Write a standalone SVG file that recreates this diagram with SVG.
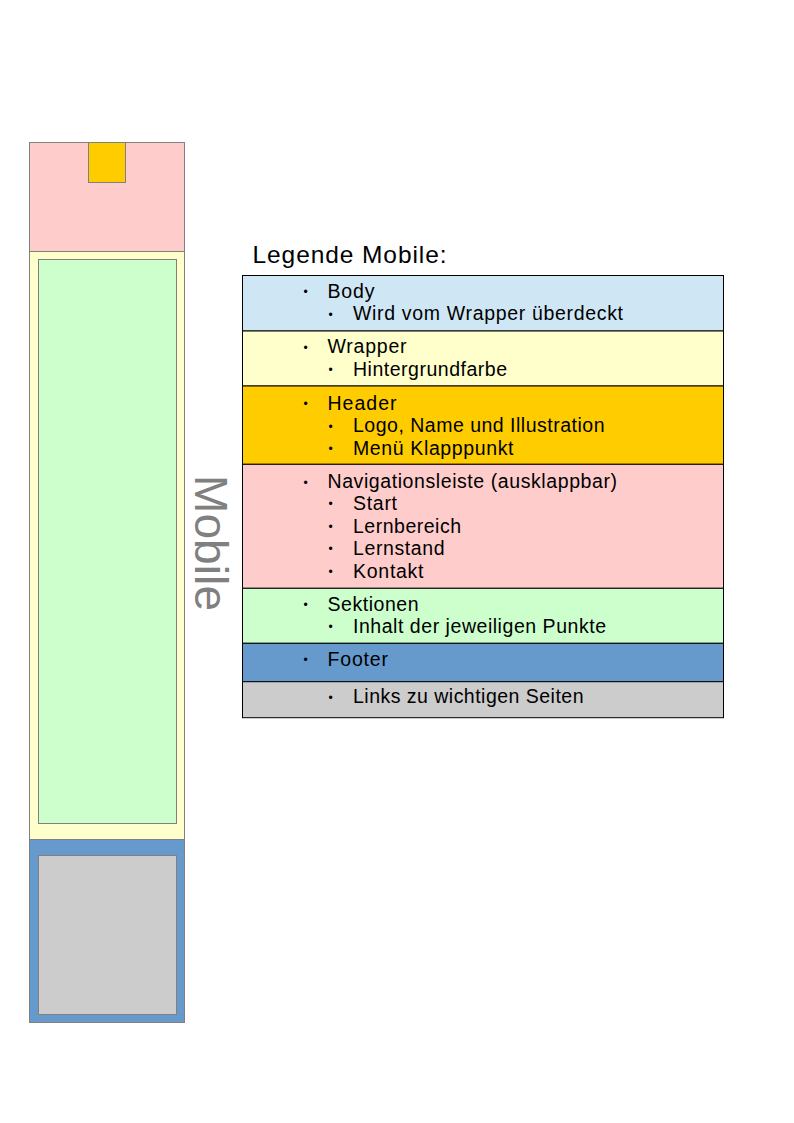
<svg xmlns="http://www.w3.org/2000/svg" width="794" height="1123" viewBox="0 0 794 1123">
<style>
.box{stroke:#808080;stroke-width:1}
.row{stroke:#000;stroke-width:1}
.t{font-family:"Liberation Sans",Arial,sans-serif;font-size:19.5px;fill:#000}
.b{font-family:"Liberation Sans",Arial,sans-serif;font-size:12px;fill:#000;text-anchor:middle}
.title{font-family:"Liberation Sans",Arial,sans-serif;font-size:24.5px;fill:#000}
.mob{font-family:"Liberation Sans",Arial,sans-serif;font-size:46px;fill:#808080;text-anchor:middle}
</style>
<rect width="794" height="1123" fill="#fff"/>
<g id="mobile-layout">
  <rect id="nav" class="box" x="29.5" y="142.5" width="155" height="109" fill="#ffcccc"/>
  <rect id="header" class="box" x="88.5" y="142.5" width="37" height="40" fill="#ffcc00"/>
  <rect id="wrapper" class="box" x="29.5" y="251.5" width="155" height="588" fill="#ffffcc"/>
  <rect id="sektionen" class="box" x="38.5" y="259.5" width="138" height="564" fill="#ccffcc"/>
  <rect id="footer" class="box" x="29.5" y="839.5" width="155" height="183" fill="#6699cc"/>
  <rect id="links" class="box" x="38.5" y="855.5" width="138" height="159" fill="#cccccc"/>
</g>
<g id="mobile-label">
  <text class="mob" transform="translate(195,543) rotate(90)" x="0" y="0" textLength="136" lengthAdjust="spacing">Mobile</text>
</g>
<g id="legend">
  <text class="title" x="252.5" y="263" textLength="194" lengthAdjust="spacing">Legende Mobile:</text>
  <g id="row-body">
    <rect class="row" x="242.5" y="275.5" width="481" height="55.5" fill="#cfe7f5"/>
    <text class="b" x="305.7" y="295.8">•</text>
    <text class="t" x="327.5" y="297.5" textLength="47" lengthAdjust="spacing">Body</text>
    <text class="b" x="330.7" y="318.5">•</text>
    <text class="t" x="353" y="320.3" textLength="270" lengthAdjust="spacing">Wird vom Wrapper überdeckt</text>
  </g>
  <g id="row-wrapper">
    <rect class="row" x="242.5" y="331" width="481" height="55" fill="#ffffcc"/>
    <text class="b" x="305.7" y="351.6">•</text>
    <text class="t" x="327.5" y="353.3" textLength="79" lengthAdjust="spacing">Wrapper</text>
    <text class="b" x="330.7" y="374.2">•</text>
    <text class="t" x="353" y="376" textLength="154" lengthAdjust="spacing">Hintergrundfarbe</text>
  </g>
  <g id="row-header">
    <rect class="row" x="242.5" y="386" width="481" height="78.3" fill="#ffcc00"/>
    <text class="b" x="305.7" y="408.2">•</text>
    <text class="t" x="327.5" y="410" textLength="69" lengthAdjust="spacing">Header</text>
    <text class="b" x="330.7" y="430.6">•</text>
    <text class="t" x="353" y="432.3" textLength="251.5" lengthAdjust="spacing">Logo, Name und Illustration</text>
    <text class="b" x="330.7" y="453.2">•</text>
    <text class="t" x="353" y="455" textLength="160.5" lengthAdjust="spacing">Menü Klapppunkt</text>
  </g>
  <g id="row-navigation">
    <rect class="row" x="242.5" y="464.3" width="481" height="124" fill="#ffcccc"/>
    <text class="b" x="305.7" y="486.6">•</text>
    <text class="t" x="327.5" y="488.3" textLength="289.5" lengthAdjust="spacing">Navigationsleiste (ausklappbar)</text>
    <text class="b" x="330.7" y="508.3">•</text>
    <text class="t" x="353" y="510" textLength="44" lengthAdjust="spacing">Start</text>
    <text class="b" x="330.7" y="531">•</text>
    <text class="t" x="353" y="532.7" textLength="108" lengthAdjust="spacing">Lernbereich</text>
    <text class="b" x="330.7" y="553.3">•</text>
    <text class="t" x="353" y="555" textLength="91.5" lengthAdjust="spacing">Lernstand</text>
    <text class="b" x="330.7" y="576">•</text>
    <text class="t" x="353" y="577.7" textLength="70.5" lengthAdjust="spacing">Kontakt</text>
  </g>
  <g id="row-sektionen">
    <rect class="row" x="242.5" y="588.3" width="481" height="55" fill="#ccffcc"/>
    <text class="b" x="305.7" y="609">•</text>
    <text class="t" x="327.5" y="610.7" textLength="91" lengthAdjust="spacing">Sektionen</text>
    <text class="b" x="330.7" y="631">•</text>
    <text class="t" x="353" y="632.7" textLength="253" lengthAdjust="spacing">Inhalt der jeweiligen Punkte</text>
  </g>
  <g id="row-footer">
    <rect class="row" x="242.5" y="643.3" width="481" height="38.4" fill="#6699cc"/>
    <text class="b" x="305.7" y="664.3">•</text>
    <text class="t" x="327.5" y="666" textLength="60.5" lengthAdjust="spacing">Footer</text>
  </g>
  <g id="row-links">
    <rect class="row" x="242.5" y="681.7" width="481" height="36" fill="#cccccc"/>
    <text class="b" x="330.7" y="701.6">•</text>
    <text class="t" x="353" y="703.3" textLength="230.5" lengthAdjust="spacing">Links zu wichtigen Seiten</text>
  </g>
</g>
</svg>
